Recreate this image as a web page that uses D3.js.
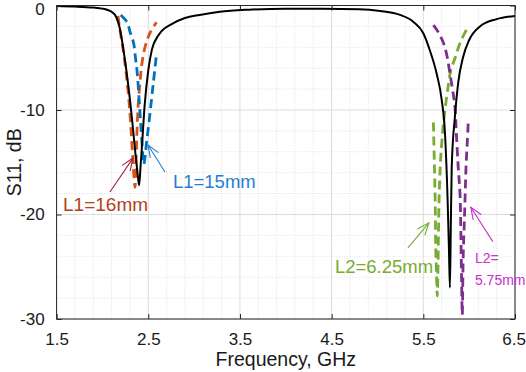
<!DOCTYPE html>
<html><head><meta charset="utf-8">
<script src="https://cdn.jsdelivr.net/npm/d3@7"></script>
<style>html,body{margin:0;padding:0;background:#fff;}svg{display:block;}text{font-family:"Liberation Sans",Arial,Helvetica,sans-serif;}</style>
</head><body>
<script>
// ---- data ----
const xTicks = [1.5, 2.5, 3.5, 4.5, 5.5, 6.5];
const yTicks = [0, -10, -20, -30];
const xTickLabels = ["1.5", "2.5", "3.5", "4.5", "5.5", "6.5"];
const yTickLabels = ["0", "-10", "-20", "-30"];

const baseFreq = [1.5,1.7,1.9,2.0,2.05,2.1,2.15,2.19,2.23,2.27,2.30,2.33,2.36,2.38,2.40,2.415,2.43,2.46,2.50,2.54,2.6,2.65,2.75,2.9,3.06,3.28,3.6,4.0,4.4,4.8,5.03,5.245,5.39,5.5,5.57,5.645,5.70,5.736,5.765,5.78,5.79,5.80,5.81,5.845,5.88,5.935,6.0,6.117,6.3,6.5];
const baseS11  = [-0.05,-0.1,-0.2,-0.3,-0.4,-0.6,-1.1,-2.2,-4.3,-6.8,-9.0,-11.5,-14.2,-15.8,-17.2,-15.5,-13.6,-9.6,-6.2,-4.2,-3.0,-2.4,-1.8,-1.2,-0.9,-0.6,-0.4,-0.3,-0.3,-0.35,-0.53,-0.9,-1.55,-2.66,-4.26,-6.5,-9.0,-12.2,-18.6,-23.5,-27.0,-21.0,-15.4,-10.6,-7.4,-4.9,-3.3,-2.0,-1.3,-1.0];

const l16Freq = [2.17,2.185,2.227,2.255,2.282,2.308,2.33,2.355,2.365,2.375,2.39,2.41,2.43,2.47,2.52,2.59];
const l16S11  = [-1.0,-2.0,-4.3,-6.2,-8.4,-11.3,-14.5,-17.4,-15.5,-12.5,-9.5,-7.3,-5.6,-3.8,-2.6,-1.6];

const l15Freq = [2.20,2.27,2.30,2.34,2.36,2.38,2.40,2.42,2.44,2.45,2.465,2.48,2.51,2.555,2.59];
const l15S11  = [-0.9,-1.6,-2.5,-3.6,-5.0,-6.5,-9.0,-11.6,-14.2,-15.2,-14.5,-13.2,-11.0,-7.4,-4.6];

const l625Freq = [5.61,5.62,5.63,5.635,5.645,5.652,5.658,5.665,5.672,5.68,5.69,5.71,5.736,5.77,5.80,5.845,5.90,5.99];
const l625S11  = [-11.2,-15.0,-19.0,-23.0,-26.0,-27.8,-26.0,-22.0,-18.5,-16.3,-14.5,-12.2,-10.0,-7.8,-6.2,-5.05,-3.6,-2.0];

const l575Freq = [5.61,5.66,5.72,5.76,5.79,5.82,5.845,5.86,5.88,5.90,5.91,5.918,5.925,5.935,5.95,5.96,5.968,5.98,5.99];
const l575S11  = [-1.87,-2.5,-3.6,-4.9,-6.5,-8.1,-9.7,-12.2,-15.4,-18.0,-22.0,-26.5,-29.6,-24.0,-20.0,-17.0,-15.0,-13.0,-11.2];

const annLabels = ["L1=16mm", "L1=15mm", "L2=6.25mm", "L2=", "5.75mm"];
const annLabelF = [1.57, 2.769, 4.536, 6.063, 6.063];
const annLabelDb = [-19.66, -17.46, -25.6, -24.64, -26.75];
const arrowTailF = [2.082, 2.682, 5.332, 6.258];
const arrowTailDb = [-17.85, -15.93, -23.2, -22.6];
const arrowTipF = [2.333, 2.497, 5.561, 6.018];
const arrowTipDb = [-14.6, -13.35, -20.8, -19.3];

// ---- layout ----
const W = 526, H = 372;
const m = {l: 56.6, r: 11, t: 5.5, b: 53};
const x = d3.scaleLinear().domain([1.5, 6.5]).range([m.l, W - m.r]);
const y = d3.scaleLinear().domain([-30, 0]).range([H - m.b, m.t]);

const svg = d3.select("body").append("svg").attr("width", W).attr("height", H);

// minor grid
const xMinor = d3.range(1.7, 6.45, 0.2).filter(v => Math.abs((v - 1.5) % 1) > 0.05 && Math.abs((v - 1.5) % 1) < 0.95);
const yMinor = d3.range(-28, 0, 2).filter(v => v % 10 !== 0);
const grid = svg.append("g");
grid.selectAll(".xm").data(xMinor).join("line")
  .attr("x1", d => x(d)).attr("x2", d => x(d)).attr("y1", y(-30)).attr("y2", y(0))
  .attr("stroke", "#e2e2e2").attr("stroke-width", 1).attr("stroke-dasharray", "1,1.5");
grid.selectAll(".ym").data(yMinor).join("line")
  .attr("x1", x(1.5)).attr("x2", x(6.5)).attr("y1", d => y(d)).attr("y2", d => y(d))
  .attr("stroke", "#e2e2e2").attr("stroke-width", 1).attr("stroke-dasharray", "1,1.5");
grid.selectAll(".xM").data(xTicks).join("line")
  .attr("x1", d => x(d)).attr("x2", d => x(d)).attr("y1", y(-30)).attr("y2", y(0))
  .attr("stroke", "#dcdcdc").attr("stroke-width", 1);
grid.selectAll(".yM").data(yTicks).join("line")
  .attr("x1", x(1.5)).attr("x2", x(6.5)).attr("y1", d => y(d)).attr("y2", d => y(d))
  .attr("stroke", "#dcdcdc").attr("stroke-width", 1);

// curves
svg.append("clipPath").attr("id", "clip").append("rect")
  .attr("x", x(1.5)).attr("y", y(0)).attr("width", x(6.5) - x(1.5)).attr("height", y(-30) - y(0));
const line = d3.line().x(d => x(d[0])).y(d => y(d[1])).curve(d3.curveMonotoneX);
const zip = (a, b) => a.map((v, i) => [v, b[i]]);
const series = [
  {f: l16Freq, s: l16S11, color: "#D95319", dash: "9,5", w: 2.8},
  {f: l15Freq, s: l15S11, color: "#0072BD", dash: "9,5", w: 2.8},
  {f: l625Freq, s: l625S11, color: "#77AC30", dash: "9,5", w: 2.8},
  {f: l575Freq, s: l575S11, color: "#7E2F8E", dash: "9,5", w: 2.8},
  {f: baseFreq, s: baseS11, color: "#000000", dash: null, w: 2}
];
const cg = svg.append("g").attr("clip-path", "url(#clip)");
series.forEach(sr => {
  const lineFn = sr.dash ? d3.line().x(d => x(d[0])).y(d => y(d[1])).curve(d3.curveCatmullRom.alpha(0.5)) : line;
  cg.append("path").datum(zip(sr.f, sr.s))
    .attr("d", lineFn).attr("fill", "none").attr("stroke", sr.color)
    .attr("stroke-width", sr.w).attr("stroke-dasharray", sr.dash);
});

// axes box
const axC = "#262626";
svg.append("rect").attr("x", x(1.5)).attr("y", y(0)).attr("width", x(6.5) - x(1.5)).attr("height", y(-30) - y(0))
  .attr("fill", "none").attr("stroke", axC).attr("stroke-width", 1);
const tl = 5;
const xAxB = svg.append("g").attr("transform", `translate(0,${y(-30)})`)
  .call(d3.axisBottom(x).tickValues(xTicks).tickFormat((d, i) => xTickLabels[i]).tickSizeInner(-tl).tickSizeOuter(0));
const xAxT = svg.append("g").attr("transform", `translate(0,${y(0)})`)
  .call(d3.axisTop(x).tickValues(xTicks).tickFormat("").tickSizeInner(-tl).tickSizeOuter(0));
const yAxL = svg.append("g").attr("transform", `translate(${x(1.5)},0)`)
  .call(d3.axisLeft(y).tickValues(yTicks).tickFormat((d, i) => yTickLabels[i]).tickSizeInner(-tl).tickSizeOuter(0).tickPadding(12));
const yAxR = svg.append("g").attr("transform", `translate(${x(6.5)},0)`)
  .call(d3.axisRight(y).tickValues(yTicks).tickFormat("").tickSizeInner(-tl).tickSizeOuter(0));
[xAxB, xAxT, yAxL, yAxR].forEach(a => {
  a.select(".domain").remove();
  a.selectAll(".tick line").attr("stroke", axC);
  a.selectAll("text").attr("fill", "#1a1a1a").style("font-size", "17px")
    .style("font-family", '"Liberation Sans", Arial, sans-serif');
});
xAxB.selectAll("text").attr("dy", null).attr("y", 25.5);
xAxB.selectAll(".tick").filter(d => d === 6.5).select("text").attr("text-anchor", "end").attr("x", 10.5);
yAxL.selectAll(".tick").filter(d => d === 0).select("text").attr("dy", "0.55em");

// axis titles
svg.append("text").attr("x", (x(1.5) + x(6.5)) / 2).attr("y", 366).attr("text-anchor", "middle")
  .attr("fill", "#1a1a1a").style("font-size", "19.5px").text("Frequency, GHz");
svg.append("text").attr("transform", `translate(21,${(y(0) + y(-30)) / 2}) rotate(-90)`)
  .attr("text-anchor", "middle").attr("fill", "#1a1a1a").style("font-size", "19.5px").text("S11, dB");

// annotations
const annColors = ["#B0421C", "#1F80D0", "#77AC30", "#C930C9", "#C930C9"];
const annSizes = [19, 18.5, 18.5, 14, 14];
annLabels.forEach((t, i) => {
  svg.append("text").attr("x", x(annLabelF[i])).attr("y", y(annLabelDb[i]))
    .attr("fill", annColors[i]).style("font-size", annSizes[i] + "px").text(t);
});
const arrowColors = ["#A3223F", "#1F80D0", "#77AC30", "#C930C9"];
arrowTailF.forEach((f, i) => {
  const x1 = x(f), y1 = y(arrowTailDb[i]), x2 = x(arrowTipF[i]), y2 = y(arrowTipDb[i]);
  const ang = Math.atan2(y2 - y1, x2 - x1);
  const L = 13, a = 0.38;
  const g = svg.append("g").attr("stroke", arrowColors[i]).attr("stroke-width", 1.1).attr("fill", "none");
  g.append("line").attr("x1", x1).attr("y1", y1).attr("x2", x2).attr("y2", y2);
  g.append("path").attr("d",
    `M${x2 - L * Math.cos(ang - a)},${y2 - L * Math.sin(ang - a)}L${x2},${y2}L${x2 - L * Math.cos(ang + a)},${y2 - L * Math.sin(ang + a)}`);
});
</script>
</body></html>
